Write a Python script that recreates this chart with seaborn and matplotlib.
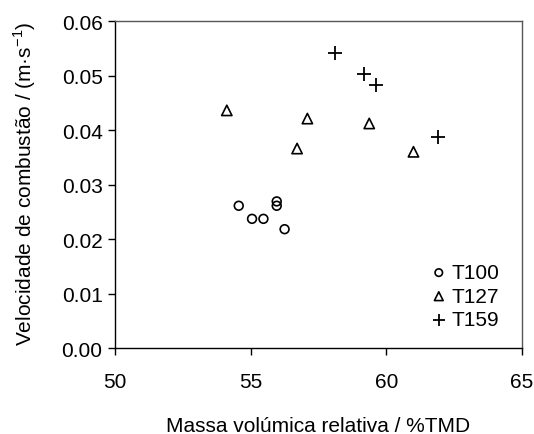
import matplotlib
matplotlib.use("Agg")
import matplotlib.pyplot as plt
import seaborn as sns
import pandas as pd

# Relative density (%TMD) and combustion rate (m/s) per composition
t100_x = [54.56, 55.05, 55.47, 55.96, 55.96, 56.25]
t100_y = [0.0261, 0.0237, 0.0237, 0.0269, 0.0261, 0.0218]
t127_x = [54.12, 56.71, 57.09, 59.37, 61.00]
t127_y = [0.0436, 0.0366, 0.0421, 0.0412, 0.0360]
t159_x = [58.10, 59.18, 59.61, 61.92]
t159_y = [0.0542, 0.0502, 0.0483, 0.0388]

series = [("T100", t100_x, t100_y, "o"),
          ("T127", t127_x, t127_y, "^"),
          ("T159", t159_x, t159_y, "+")]

sns.set_theme(style="ticks")
plt.rcParams["font.family"] = ["Liberation Sans", "DejaVu Sans"]
plt.rcParams["mathtext.fontset"] = "custom"
plt.rcParams["mathtext.rm"] = "Liberation Sans"
plt.rcParams["text.color"] = "black"
plt.rcParams["axes.labelcolor"] = "black"

fig = plt.figure(figsize=(5.34, 4.35), dpi=100)
ax = fig.add_axes([0.2154, 0.1977, 0.7621, 0.7517])

for name, xs, ys, mk in series:
    df = pd.DataFrame({"x": xs, "y": ys})
    if mk == "+":
        sns.scatterplot(data=df, x="x", y="y", marker=mk, s=112, color="black",
                        linewidth=1.3, ax=ax, label=name)
    else:
        size = 40 if mk == "o" else 55
        sns.scatterplot(data=df, x="x", y="y", marker=mk, s=size,
                        facecolor="none", edgecolor="black", linewidth=1.2,
                        ax=ax, label=name)

ax.set_xlim(50, 65)
ax.set_ylim(0, 0.06)
ax.set_xticks([50, 55, 60, 65])
ax.set_yticks([0.0, 0.01, 0.02, 0.03, 0.04, 0.05, 0.06])
ax.yaxis.set_major_formatter(matplotlib.ticker.FormatStrFormatter("%.2f"))
ax.tick_params(axis="both", direction="out", length=5, width=1, colors="black",
               labelsize=15)
ax.tick_params(axis="y", pad=4)
ax.tick_params(axis="x", pad=12)

for side in ["left", "bottom"]:
    ax.spines[side].set_color("black")
    ax.spines[side].set_linewidth(1.0)
for side in ["top", "right"]:
    ax.spines[side].set_visible(True)
    ax.spines[side].set_color("#555555")
    ax.spines[side].set_linewidth(1.0)

ax.set_xlabel("Massa volúmica relativa / %TMD", fontsize=15, labelpad=18)
ax.set_ylabel("Velocidade de combustão / (m·s$^{\\mathrm{-1}}$)", fontsize=15)
ax.yaxis.set_label_coords(-0.19, 0.506)

leg = ax.legend(loc="lower right", frameon=False, fontsize=15,
                handletextpad=0.1, borderaxespad=0.5, labelspacing=0.22,
                markerscale=0.85, bbox_to_anchor=(0.99, 0.0), handlelength=1.0)

fig.savefig("out.png", dpi=100)
